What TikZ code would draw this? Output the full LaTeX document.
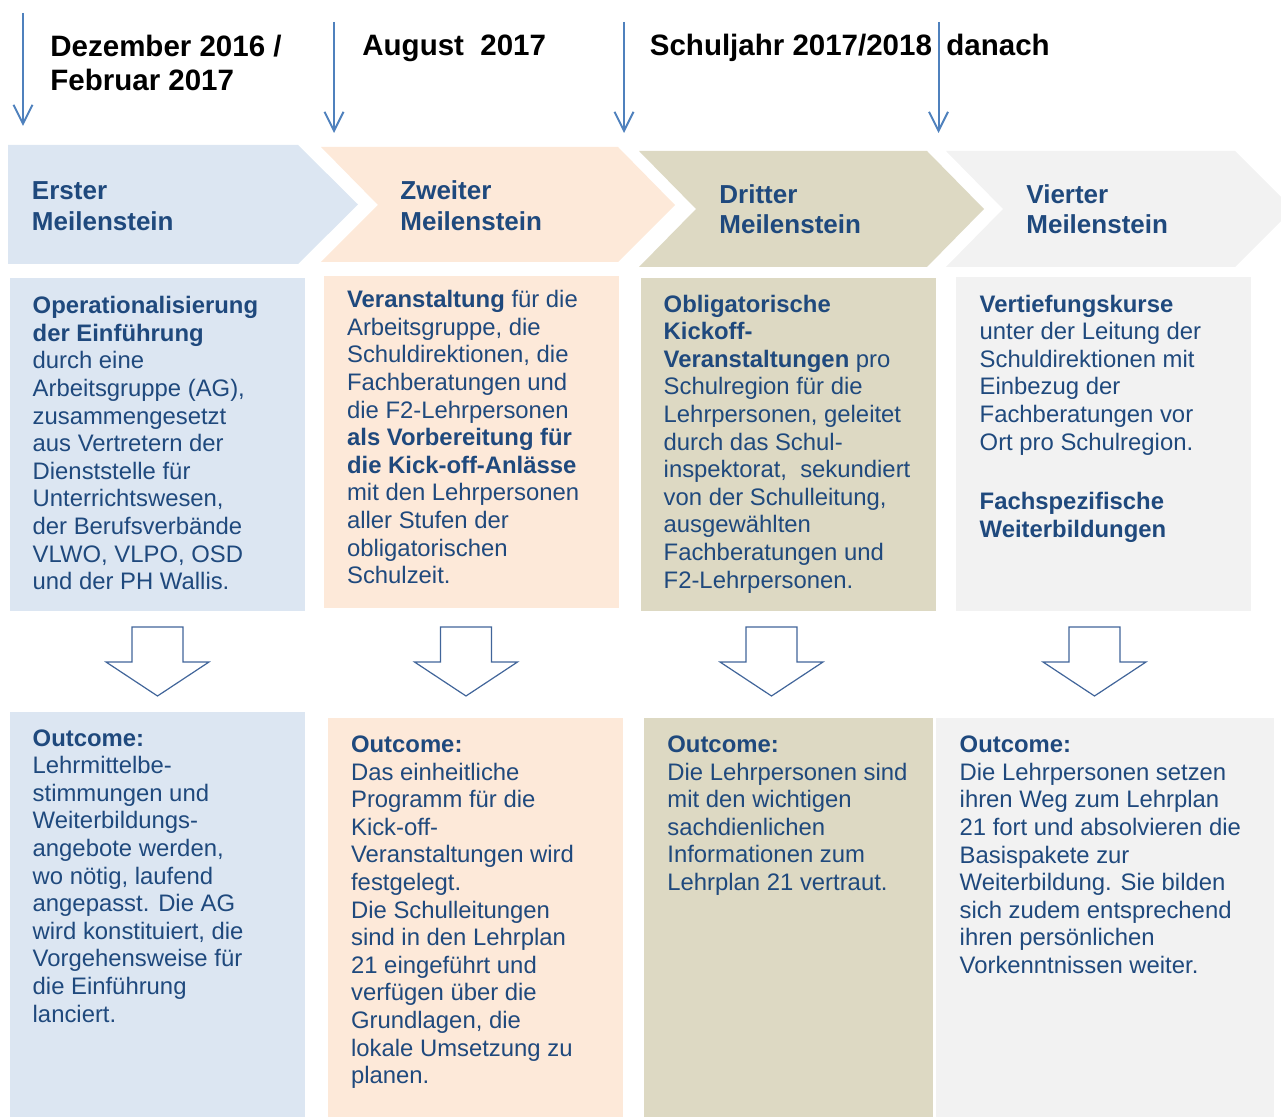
\documentclass[tikz,border=0pt]{standalone}
\usepackage{fontspec}
\setmainfont{Liberation Sans}
\usetikzlibrary{arrows.meta}
\definecolor{tblue}{HTML}{1F497D}
\definecolor{fblue}{HTML}{DCE6F2}
\definecolor{fpeach}{HTML}{FDE9D9}
\definecolor{fkhaki}{HTML}{DDD9C3}
\definecolor{fgrey}{HTML}{F2F2F2}
\definecolor{aline}{HTML}{4F81BD}
\definecolor{dline}{HTML}{41659A}
\newcommand\firstln{\rule{0pt}{0.8em}}
\begin{document}
\begin{tikzpicture}[x=0.5pt,y=-0.5pt,
 body/.style={anchor=north west, inner sep=0, align=left, text=tblue, font=\fontsize{11.93}{13.8}\selectfont},
 titletext/.style={anchor=north west, inner sep=0, align=left, text=black, font=\bfseries\fontsize{14.75}{17}\selectfont},
 chevtext/.style={anchor=north west, inner sep=0, align=left, text=tblue, font=\bfseries\fontsize{13}{15.35}\selectfont},
 timearrow/.style={draw=aline, line width=1pt, -{Straight Barb[length=9.5pt,width=9.5pt]}},
 downarrow/.style={draw=dline, line width=0.6pt, fill=white, line join=miter},
]
\useasboundingbox (0,0) rectangle (1281,1117);
\clip (0,0) rectangle (1281,1117);

% time arrows
\coordinate (t1s) at (23,13);    \coordinate (t1e) at (23,126);
\coordinate (t2s) at (334,22);   \coordinate (t2e) at (334,133);
\coordinate (t3s) at (624,22);   \coordinate (t3e) at (624,133);
\coordinate (t4s) at (938.5,22); \coordinate (t4e) at (938.5,133);
\draw[timearrow] (t1s) -- (t1e);
\draw[timearrow] (t2s) -- (t2e);
\draw[timearrow] (t3s) -- (t3e);
\draw[timearrow] (t4s) -- (t4e);

% titles
\node[titletext] (d1) at (50,32.4) {\firstln Dezember 2016 /\\Februar 2017};
\node[titletext] (d2) at (362,31.4) {\firstln August\ \ 2017};
\node[titletext] (d3) at (649.5,31.4) {\firstln Schuljahr 2017/2018};
\node[titletext] (d4) at (946,31.4) {\firstln danach};

% chevrons
\fill[fblue] (8,145) -- (298,145) -- (358,204.5) -- (298,264) -- (8,264) -- cycle;
\fill[fpeach] (321,147) -- (618,147) -- (675,205) -- (618,262) -- (321,262) -- (378,205) -- cycle;
\fill[fkhaki] (639,151) -- (927,151) -- (984,209) -- (927,267) -- (639,267) -- (696,209) -- cycle;
\fill[fgrey] (946,151) -- (1235,151) -- (1293,209) -- (1235,267) -- (946,267) -- (1003,209) -- cycle;
\node[chevtext] (m1) at (31.6,178.5) {\firstln Erster\\Meilenstein};
\node[chevtext] (m2) at (400,178.5) {\firstln Zweiter\\Meilenstein};
\node[chevtext] (m3) at (719,181.9) {\firstln Dritter\\Meilenstein};
\node[chevtext] (m4) at (1026,181.9) {\firstln Vierter\\Meilenstein};

% content boxes
\fill[fblue] (10,278) rectangle (305,611);
\fill[fpeach] (324,276) rectangle (619,608);
\fill[fkhaki] (641,278) rectangle (936,611);
\fill[fgrey] (956,277) rectangle (1251,611);

\node[body] (b1) at (32.3,294.2) {\firstln\textbf{Operationalisierung}\\\textbf{der Einführung}\\durch eine\\Arbeitsgruppe (AG),\\zusammengesetzt\\aus Vertretern der\\Dienststelle für\\Unterrichtswesen,\\der Berufsverbände\\VLWO, VLPO, OSD\\und der PH Wallis.};
\node[body] (b2) at (346.7,288.2) {\firstln\textbf{Veranstaltung} für die\\Arbeitsgruppe, die\\Schuldirektionen, die\\Fachberatungen und\\die F2-Lehrpersonen\\\textbf{als Vorbereitung für}\\\textbf{die Kick-off-Anlässe}\\mit den Lehrpersonen\\aller Stufen der\\obligatorischen\\Schulzeit.};
\node[body] (b3) at (663.3,292.6) {\firstln\textbf{Obligatorische}\\\textbf{Kickoff-}\\\textbf{Veranstaltungen} pro\\Schulregion für die\\Lehrpersonen, geleitet\\durch das Schul-\\inspektorat,\ \ sekundiert\\von der Schulleitung,\\ausgewählten\\Fachberatungen und\\F2-Lehrpersonen.};
\node[body] (b4) at (979.3,292.6) {\firstln\textbf{Vertiefungskurse}\\unter der Leitung der\\Schuldirektionen mit\\Einbezug der\\Fachberatungen vor\\Ort pro Schulregion.\\[16pt]\textbf{Fachspezifische}\\\textbf{Weiterbildungen}};

% down arrows
\foreach \c in {157.5,466,771.5,1094.5}
  \draw[downarrow] (\c-25.5,627) -- (\c+25.5,627) -- (\c+25.5,662) -- (\c+51.5,662) -- (\c,696) -- (\c-51.5,662) -- (\c-25.5,662) -- cycle;

% outcome boxes
\fill[fblue] (10,712) rectangle (305,1117);
\fill[fpeach] (328,718) rectangle (623,1117);
\fill[fkhaki] (644,718) rectangle (933,1117);
\fill[fgrey] (936,718) rectangle (1274,1117);

\node[body] (o1) at (32.3,726.6) {\firstln\textbf{Outcome:}\\Lehrmittelbe-\\stimmungen und\\Weiterbildungs-\\angebote werden,\\wo nötig, laufend\\angepasst. Die AG\\wird konstituiert, die\\Vorgehensweise für\\die Einführung\\lanciert.};
\node[body] (o2) at (350.7,733) {\firstln\textbf{Outcome:}\\Das einheitliche\\Programm für die\\Kick-off-\\Veranstaltungen wird\\festgelegt.\\Die Schulleitungen\\sind in den Lehrplan\\21 eingeführt und\\verfügen über die\\Grundlagen, die\\lokale Umsetzung zu\\planen.};
\node[body] (o3) at (667,733) {\firstln\textbf{Outcome:}\\Die Lehrpersonen sind\\mit den wichtigen\\sachdienlichen\\Informationen zum\\Lehrplan 21 vertraut.};
\node[body] (o4) at (959.3,733.2) {\firstln\textbf{Outcome:}\\Die Lehrpersonen setzen\\ihren Weg zum Lehrplan\\21 fort und absolvieren die\\Basispakete zur\\Weiterbildung. Sie bilden\\sich zudem entsprechend\\ihren persönlichen\\Vorkenntnissen weiter.};
\end{tikzpicture}
\end{document}
